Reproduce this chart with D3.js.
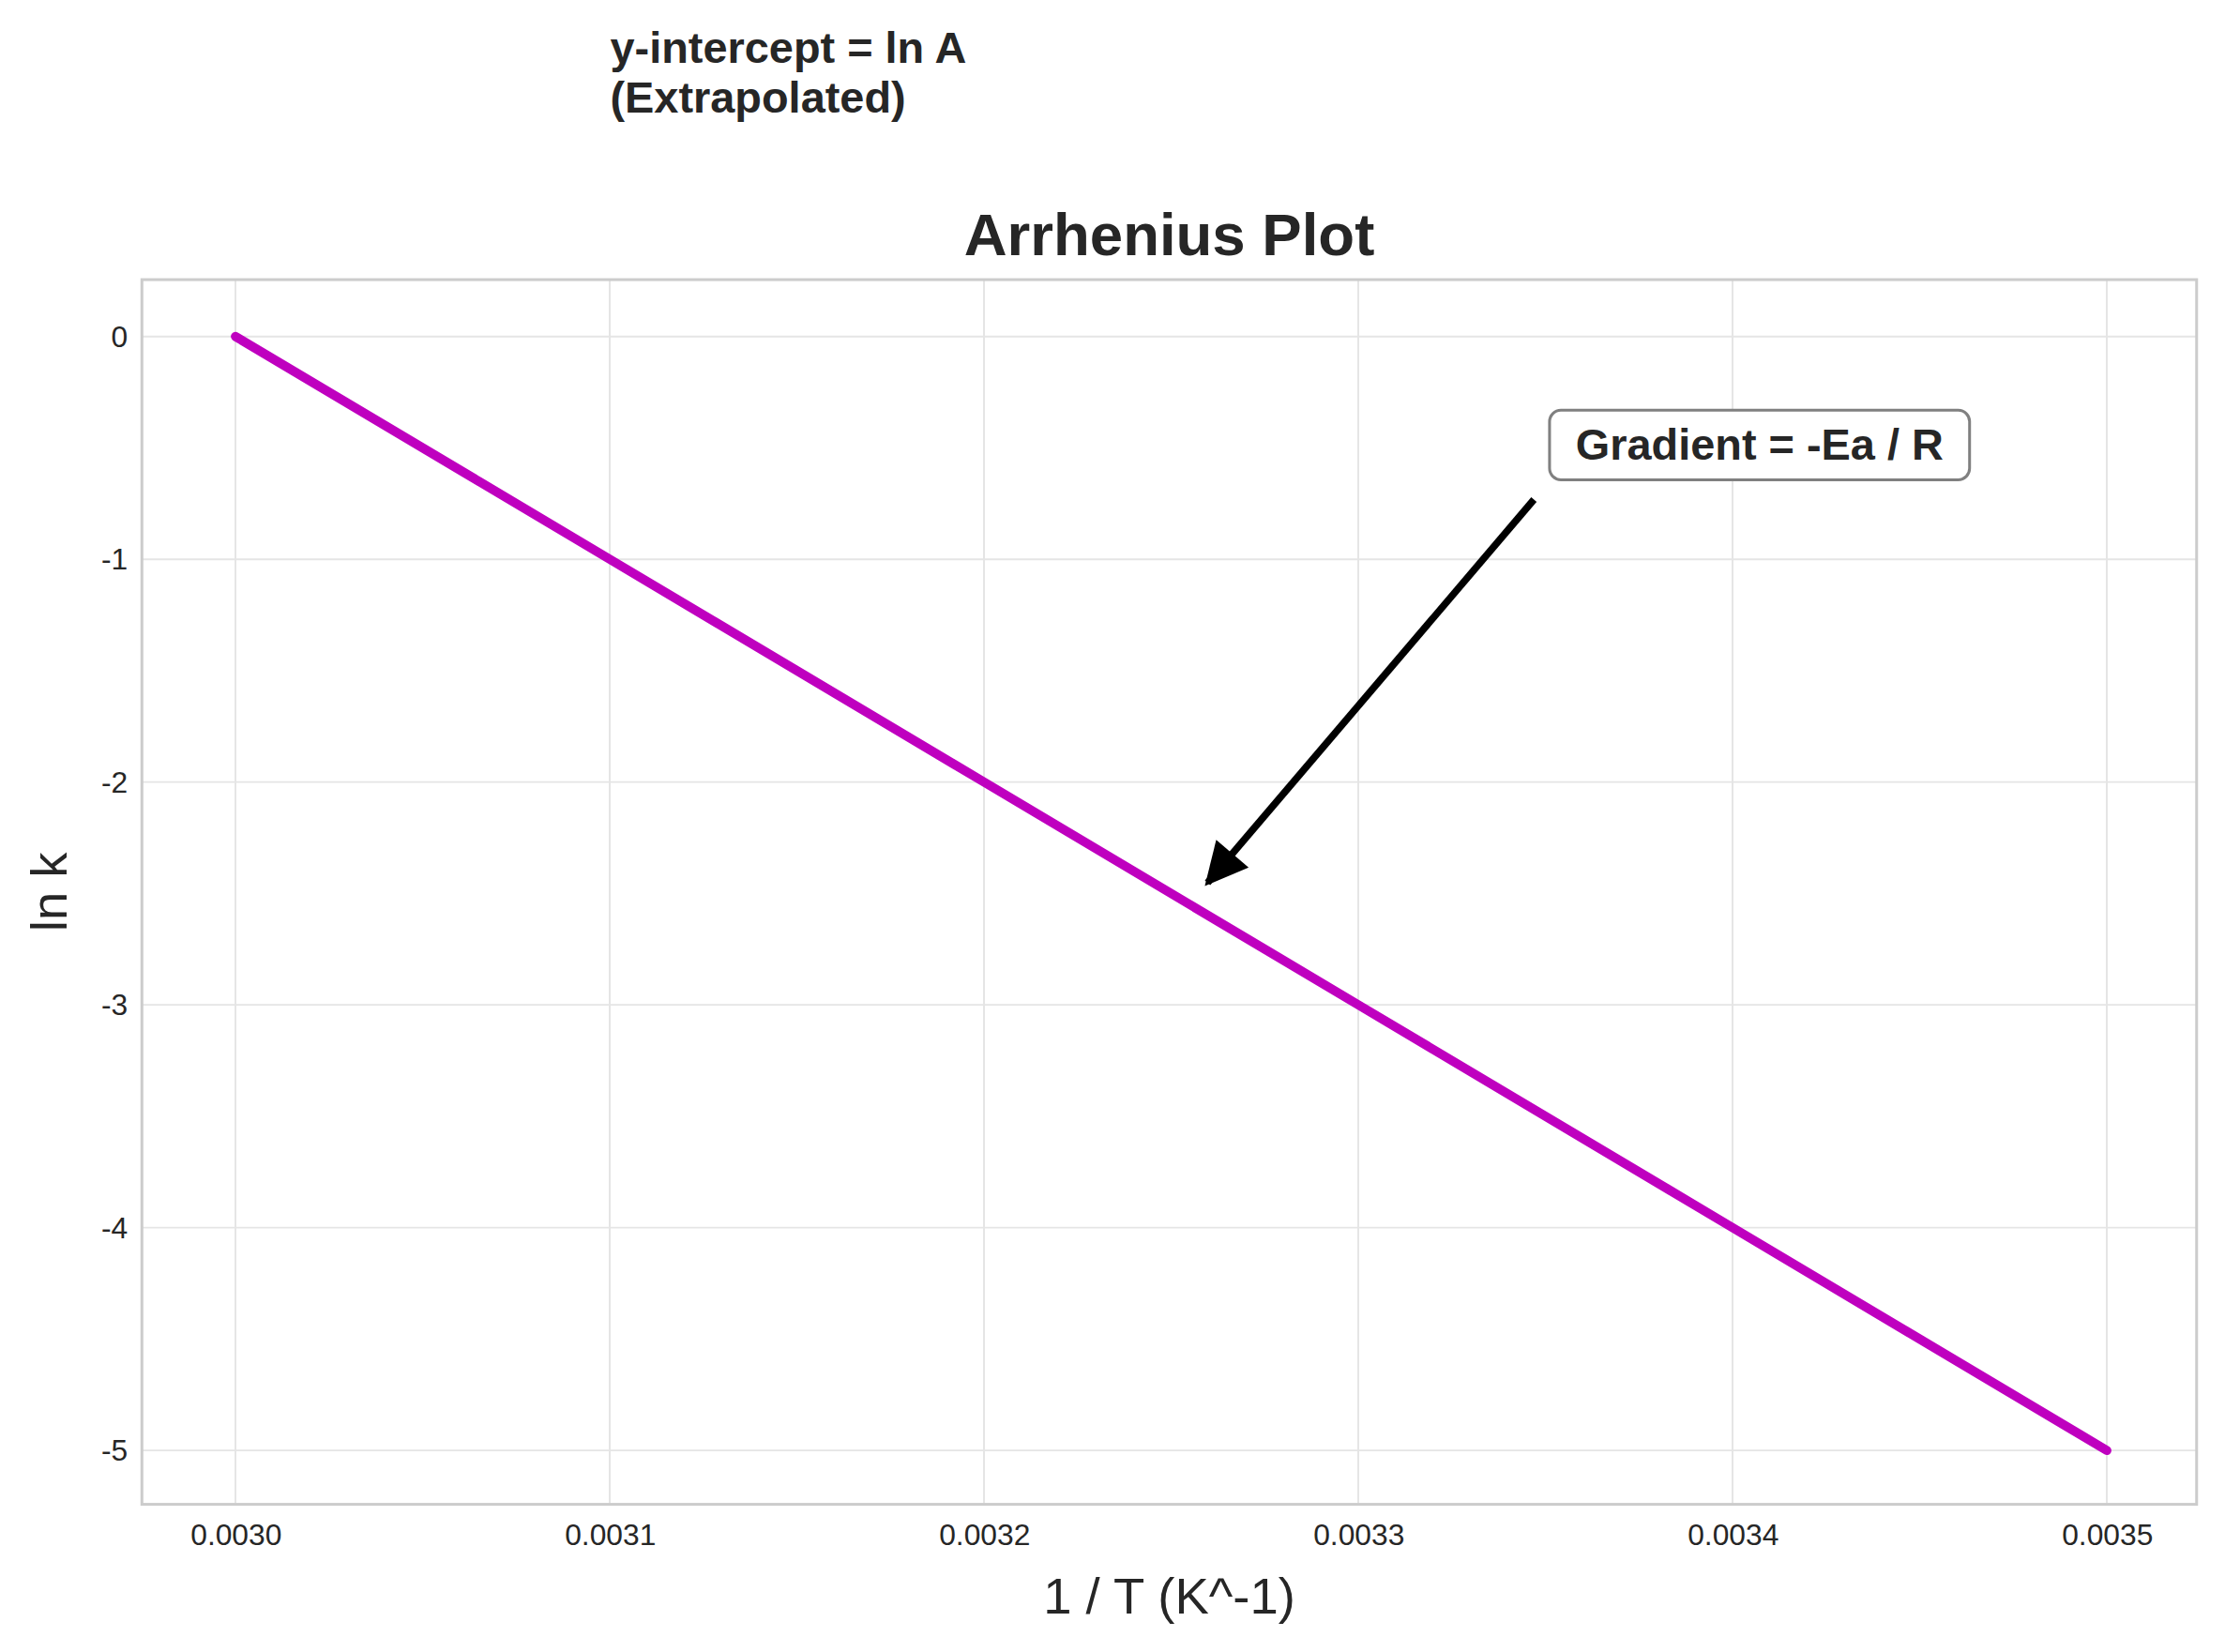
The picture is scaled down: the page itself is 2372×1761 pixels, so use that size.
<!DOCTYPE html>
<html><head><meta charset="utf-8">
<script src="https://cdn.jsdelivr.net/npm/d3@7"></script>
<style>body{margin:0;background:#fff}text{font-family:"Liberation Sans",Arial,sans-serif;fill:#262626}</style>
</head><body>
<svg id="chart"></svg>
<script>
const invT = [0.0030, 0.0031, 0.0032, 0.0033, 0.0034, 0.0035];
const lnK = [0, -1, -2, -3, -4, -5];
const xTicks = [0.0030, 0.0031, 0.0032, 0.0033, 0.0034, 0.0035];
const yTicks = [0, -1, -2, -3, -4, -5];

const W = 1568, H = 1164;
const m = {l: 100, r: 1548, t: 197, b: 1060};

const svg = d3.select("#chart")
  .attr("width", 2372).attr("height", 1761)
  .attr("viewBox", `0 0 ${W} ${H}`);

const x = d3.scaleLinear().domain([0.002975, 0.003524]).range([m.l, m.r]);
const y = d3.scaleLinear().domain([0.255, -5.242]).range([m.t, m.b]);

// grid
svg.append("g").selectAll("line").data(xTicks).join("line")
  .attr("x1", d => x(d)).attr("x2", d => x(d)).attr("y1", m.t).attr("y2", m.b)
  .attr("stroke", "#e5e5e5").attr("stroke-width", 1.3);
svg.append("g").selectAll("line").data(yTicks).join("line")
  .attr("y1", d => y(d)).attr("y2", d => y(d)).attr("x1", m.l).attr("x2", m.r)
  .attr("stroke", "#e5e5e5").attr("stroke-width", 1.3);

svg.append("rect").attr("x", m.l).attr("y", m.t)
  .attr("width", m.r - m.l).attr("height", m.b - m.t)
  .attr("fill", "none").attr("stroke", "#cccccc").attr("stroke-width", 2);

// axes (labels only)
const xAxis = svg.append("g").attr("transform", `translate(0,${m.b})`)
  .call(d3.axisBottom(x).tickValues(xTicks).tickFormat(d3.format(".4f")).tickSize(0).tickPadding(14));
const yAxis = svg.append("g").attr("transform", `translate(${m.l},0)`)
  .call(d3.axisLeft(y).tickValues(yTicks).tickFormat(d => d < 0 ? "-" + Math.abs(d) : d).tickSize(0).tickPadding(10));
[xAxis, yAxis].forEach(a => {
  a.select(".domain").remove();
  a.attr("font-size", null).attr("font-family", null);
  a.selectAll("text").style("font-size", "21px").attr("fill", "#262626");
});

svg.append("path").datum(invT.map((v, i) => [v, lnK[i]]))
  .attr("d", d3.line().x(d => x(d[0])).y(d => y(d[1])))
  .attr("fill", "none").attr("stroke", "#bf00bf").attr("stroke-width", 6.5).attr("stroke-linecap", "round");

svg.append("text").attr("x", (m.l + m.r) / 2).attr("y", 180).attr("text-anchor", "middle")
  .style("font-size", "42px").style("font-weight", "bold").text("Arrhenius Plot");
svg.append("text").attr("x", (m.l + m.r) / 2).attr("y", 1137).attr("text-anchor", "middle")
  .style("font-size", "36px").text("1 / T (K^-1)");
svg.append("text").attr("transform", `translate(47,${(m.t + m.b) / 2}) rotate(-90)`).attr("text-anchor", "middle")
  .style("font-size", "36px").text("ln k");

svg.append("text").attr("x", 430).attr("y", 44).style("font-size", "31px").style("font-weight", "bold").text("y-intercept = ln A");
svg.append("text").attr("x", 430).attr("y", 79).style("font-size", "31px").style("font-weight", "bold").text("(Extrapolated)");

// annotation
svg.append("defs").append("marker").attr("id", "ah").attr("viewBox", "0 0 10 10")
  .attr("refX", 9).attr("refY", 5).attr("markerWidth", 7).attr("markerHeight", 6)
  .attr("markerUnits", "strokeWidth").attr("orient", "auto")
  .append("path").attr("d", "M0,0 L10,5 L0,10 z").attr("fill", "#000");
svg.append("line").attr("x1", 1081).attr("y1", 352).attr("x2", 851).attr("y2", 622)
  .attr("stroke", "#000").attr("stroke-width", 5).attr("marker-end", "url(#ah)");
svg.append("rect").attr("x", 1092).attr("y", 289).attr("width", 296).attr("height", 49).attr("rx", 8)
  .attr("fill", "#fff").attr("stroke", "#808080").attr("stroke-width", 2);
svg.append("text").attr("x", 1240).attr("y", 324).attr("text-anchor", "middle")
  .style("font-size", "31px").style("font-weight", "bold").text("Gradient = -Ea / R");
</script>
</body></html>
